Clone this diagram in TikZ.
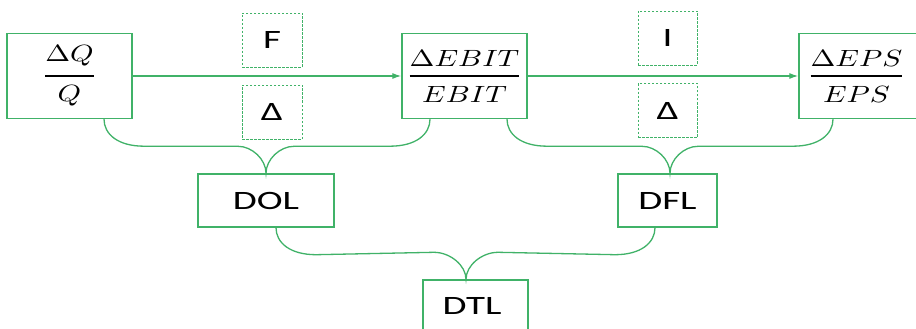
\documentclass[tikz,border=0pt]{standalone}
\usepackage{amsmath}
\usepackage{fontspec}
\setmainfont{Carlito}
\usetikzlibrary{calc,arrows.meta}
\definecolor{ggreen}{RGB}{64,178,104}
\newcommand\lbl[1]{\scalebox{3.9}[2.65]{#1}}
\newcommand\mfr[2]{\scalebox{2.98}[2.35]{$\genfrac{}{}{1.2pt}{0}{#1}{#2}$}}
\newcommand\fbr[4]{% left leg, tip, right leg, tip half-width
  \draw[conn] (#1) .. controls ($(#1)+(0,15)$) and ($(#1)+(14,27)$) .. ($(#1)+(40,27)$)
    -- ($(#2)+(-#4,-27)$) .. controls ($(#2)+(-#4/2,-27)$) and ($(#2)+(0,-14)$) .. (#2)
    .. controls ($(#2)+(0,-14)$) and ($(#2)+(#4/2,-27)$) .. ($(#2)+(#4,-27)$)
    -- ($(#3)+(-40,27)$) .. controls ($(#3)+(-14,27)$) and ($(#3)+(0,15)$) .. (#3);}
\tikzset{
  box/.style={draw=ggreen, line width=1.4pt, inner sep=0pt, fill=white},
  dbox/.style={draw=ggreen, line width=0.9pt, dash pattern=on 2.5pt off 1.5pt, inner sep=0pt},
  conn/.style={draw=ggreen, line width=1.3pt},
  arr/.style={conn, -{Latex[length=9pt,width=6pt]}}
}
\begin{document}
\begin{tikzpicture}[x=1pt,y=-1pt]
\useasboundingbox[fill=white] (0,0) rectangle (916,329);
\node[box, minimum width=125pt, minimum height=85pt] (q) at (69.5,76) {\mfr{\Delta Q}{Q}};
\node[box, minimum width=125pt, minimum height=85pt] (ebit) at (464.5,76) {\mfr{\Delta EBIT}{EBIT}};
\node[box, minimum width=126pt, minimum height=85pt] (eps) at (862,76) {};
\node at (856.5,76) {\mfr{\Delta EPS}{EPS}};
\node[dbox, minimum width=60pt, minimum height=54pt] (f) at (272,40) {\lbl{F}};
\node[dbox, minimum width=60pt, minimum height=54pt] (d1) at (272,112) {\lbl{Δ}};
\node[dbox, minimum width=59pt, minimum height=54pt] (i) at (667.5,38) {\lbl{I}};
\node[dbox, minimum width=59pt, minimum height=54pt] (d2) at (667.5,110.5) {\lbl{Δ}};
\node[box, minimum width=136pt, minimum height=53pt] (dol) at (266,200.5) {\lbl{DOL}};
\node[box, minimum width=99pt, minimum height=53pt] (dfl) at (667.5,200.5) {\lbl{DFL}};
\node[box, minimum width=105pt, minimum height=60pt] (dtl) at (475.5,310) {};
\node at (472,306) {\lbl{DTL}};
\draw[arr] (q.east) -- (ebit.west);
\draw[arr] (ebit.east) -- (eps.west);
\coordinate (l1) at ($(q.south)+(34.5,0)$);
\coordinate (r1) at ($(ebit.south)+(-34.5,0)$);
\coordinate (l2) at ($(ebit.south)+(42.5,0)$);
\coordinate (r2) at ($(eps.south)+(-29,0)$);
\coordinate (t2) at ($(dfl.north)+(2.5,0)$);
\coordinate (l3) at ($(dol.south)+(10,0)$);
\coordinate (r3) at ($(dfl.south)+(-12.5,0)$);
\coordinate (t3) at ($(dtl.north)+(-9.5,0)$);
\fbr{l1}{dol.north}{r1}{28}
\fbr{l2}{t2}{r2}{28}
\fbr{l3}{t3}{r3}{32}
\end{tikzpicture}
\end{document}
